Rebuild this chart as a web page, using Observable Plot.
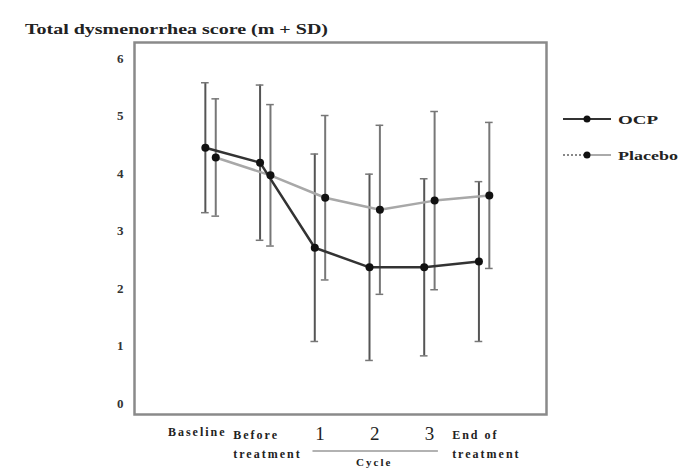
<!DOCTYPE html>
<html>
<head>
<meta charset="utf-8">
<script src="https://cdn.jsdelivr.net/npm/d3@7"></script>
<script src="https://cdn.jsdelivr.net/npm/@observablehq/plot@0.6"></script>
<style>
  body { margin: 0; background: #fff; }
</style>
</head>
<body>
<div id="chart"></div>
<script>
const categories = ["Baseline", "Before\ntreatment", "1", "2", "3", "End of\ntreatment"];
const ocpMean = [4.45, 4.19, 2.71, 2.37, 2.37, 2.47];
const ocpSD = [1.13, 1.35, 1.63, 1.62, 1.54, 1.39];
const placeboMean = [4.28, 3.97, 3.58, 3.37, 3.53, 3.62];
const placeboSD = [1.02, 1.23, 1.43, 1.47, 1.55, 1.27];
const yTicks = [0, 1, 2, 3, 4, 5, 6];
const seriesNames = ["OCP", "Placebo"];
const groupLabel = "Cycle";
const title = "Total dysmenorrhea score (m + SD)";

const off = 0.095;
const cap = 0.07;
const data = [];
categories.forEach((c, i) => {
  data.push({series: "OCP", i, x: i - off, mean: ocpMean[i], sd: ocpSD[i]});
  data.push({series: "Placebo", i, x: i + off, mean: placeboMean[i], sd: placeboSD[i]});
});
const ocp = data.filter(d => d.series === "OCP");
const pla = data.filter(d => d.series === "Placebo");
const labels = categories.map((c, i) => ({c, i}));
const serif = "'Liberation Serif', 'Times New Roman', 'DejaVu Serif', serif";

const plot = Plot.plot({
  width: 680,
  height: 470,
  marginLeft: 134,
  marginRight: 134,
  marginTop: 42,
  marginBottom: 56,
  style: {fontFamily: serif, background: "#fff"},
  x: {domain: [-1.39, 6.14], axis: null},
  y: {domain: [-0.19, 6.28], axis: null},
  marks: [
    Plot.frame({stroke: "#8a8a8a", strokeWidth: 2.5}),
    Plot.axisY({ticks: yTicks, tickSize: 0, tickPadding: 10, fontSize: 13, fontWeight: "bold", tickFormat: d => d, color: "#333", label: null}),
    // error bars
    Plot.ruleX(data, {x: "x", y1: d => d.mean - d.sd, y2: d => d.mean + d.sd, stroke: d => d.series === "OCP" ? "#555" : "#777", strokeWidth: 2}),
    Plot.ruleY(data, {y: d => d.mean + d.sd, x1: d => d.x - cap, x2: d => d.x + cap, stroke: "#777", strokeWidth: 1.5}),
    Plot.ruleY(data, {y: d => d.mean - d.sd, x1: d => d.x - cap, x2: d => d.x + cap, stroke: "#777", strokeWidth: 1.5}),
    // lines
    Plot.line(pla, {x: "x", y: "mean", stroke: "#a8a8a8", strokeWidth: 2.5}),
    Plot.line(ocp, {x: "x", y: "mean", stroke: "#333", strokeWidth: 2.5}),
    Plot.dot(data, {x: "x", y: "mean", r: 4, fill: "#111"}),
    // category labels
    Plot.text(labels.filter(d => d.i === 0), {x: "i", text: "c", frameAnchor: "bottom", lineAnchor: "middle", dy: 18, dx: 16, textAnchor: "end", fontSize: 12, fontWeight: "bold", fill: "#222"}),
    Plot.text(labels.filter(d => d.i === 1 || d.i === 5), {x: "i", text: "c", frameAnchor: "bottom", lineAnchor: "top", dy: 11, dx: -32, textAnchor: "start", fontSize: 12, fontWeight: "bold", lineHeight: 1.6, fill: "#222"}),
    Plot.text(labels.filter(d => d.i >= 2 && d.i <= 4), {x: "i", text: "c", frameAnchor: "bottom", lineAnchor: "middle", dy: 19, fontSize: 19, fill: "#222"})
  ]
});

const svg = d3.select(plot);
// widen category label letters like the reference
svg.selectAll("g[aria-label='text'] text").attr("letter-spacing", function () {
  return this.parentNode.getAttribute("font-size") === "19" ? 0 : 2;
});
svg.selectAll("g[aria-label='y-axis tick label'] text").attr("letter-spacing", 1);

const xs = plot.scale("x");
const X = v => xs.apply(v);
// cycle bracket
svg.append("line")
  .attr("x1", X(2) - 7).attr("x2", X(4) + 9)
  .attr("y1", 451).attr("y2", 451)
  .attr("stroke", "#999").attr("stroke-width", 1.5);
svg.append("text")
  .attr("x", (X(2) + X(4)) / 2).attr("y", 466)
  .attr("text-anchor", "middle")
  .attr("font-family", serif).attr("font-size", 11).attr("font-weight", "bold").attr("fill", "#222")
  .attr("letter-spacing", 2)
  .text(groupLabel);
// title
svg.append("text")
  .attr("x", 25).attr("y", 34)
  .attr("text-anchor", "start")
  .attr("font-family", serif).attr("font-size", 14).attr("font-weight", "bold").attr("fill", "#222")
  .attr("textLength", 303).attr("lengthAdjust", "spacingAndGlyphs")
  .text(title);
// legend
const lg = svg.append("g").attr("font-family", serif).attr("font-size", 13).attr("font-weight", "bold").attr("fill", "#222").attr("text-anchor", "start");
const items = [
  {name: seriesNames[0], y: 119, stroke: "#333", len: 40},
  {name: seriesNames[1], y: 155, stroke: "#888", len: 60}
];
items.forEach((it, k) => {
  if (k === 0) {
    lg.append("line").attr("x1", 563).attr("x2", 611).attr("y1", it.y).attr("y2", it.y)
      .attr("stroke", it.stroke).attr("stroke-width", 2);
  } else {
    lg.append("line").attr("x1", 563).attr("x2", 587).attr("y1", it.y).attr("y2", it.y)
      .attr("stroke", it.stroke).attr("stroke-width", 2).attr("stroke-dasharray", "2,2");
    lg.append("line").attr("x1", 587).attr("x2", 611).attr("y1", it.y).attr("y2", it.y)
      .attr("stroke", "#aaa").attr("stroke-width", 2);
  }
  lg.append("circle").attr("cx", 587).attr("cy", it.y).attr("r", 3.5).attr("fill", "#111");
  lg.append("text").attr("x", 618).attr("y", it.y + 4.5)
    .attr("textLength", it.len).attr("lengthAdjust", "spacingAndGlyphs").text(it.name);
});

document.getElementById("chart").appendChild(plot);
</script>
</body>
</html>
